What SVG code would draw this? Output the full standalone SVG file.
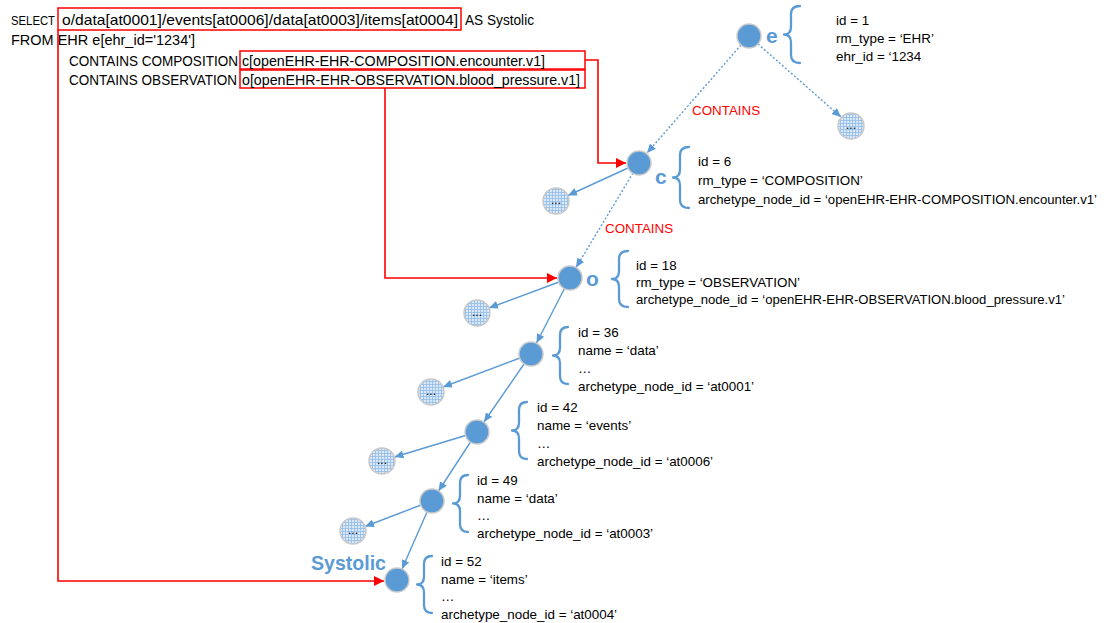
<svg xmlns="http://www.w3.org/2000/svg" width="1111" height="623" viewBox="0 0 1111 623">
  <style>
    .q { font-family: "Liberation Sans", Arial, sans-serif; font-size: 14.6px; fill: #000; }
    .t { font-family: "Liberation Sans", Arial, sans-serif; font-size: 13.4px; fill: #000; }
    .kw { font-family: "Liberation Sans", Arial, sans-serif; font-size: 13.4px; fill: #FF0000; }
    .lbl { font-family: "Liberation Sans", Arial, sans-serif; font-size: 21px; font-weight: bold; fill: #5B9BD5; }
    .rbox { fill: none; stroke: #FF0000; stroke-width: 1.5; }
    .red { fill: none; stroke: #FF0000; stroke-width: 1.6; marker-end: url(#arrRed); }
    .edge { fill: none; stroke: #5B9BD5; stroke-width: 1.4; marker-end: url(#arrBlue); }
    .dot { stroke-dasharray: 2 2; }
    .node { fill: #5B9BD5; stroke: #C9C9C9; stroke-width: 1.5; }
    .leaf { fill: url(#grid); stroke: #C9C9C9; stroke-width: 1.5; }
    .dots { font-family: "Liberation Sans", Arial, sans-serif; font-size: 12px; fill: #000; text-anchor: middle; }
    .brace { fill: none; stroke: #5B9BD5; stroke-width: 2.3; stroke-linecap: round; stroke-linejoin: round; }
  </style>
  <defs>
    <marker id="arrBlue" markerUnits="userSpaceOnUse" markerWidth="10" markerHeight="8" refX="9" refY="4" orient="auto">
      <path d="M0,0 L9,4 L0,8 z" fill="#5B9BD5"/>
    </marker>
    <marker id="arrRed" markerUnits="userSpaceOnUse" markerWidth="11" markerHeight="10" refX="10" refY="5" orient="auto">
      <path d="M0,0 L10,5 L0,10 z" fill="#FF0000"/>
    </marker>
    <pattern id="grid" width="3" height="3" patternUnits="userSpaceOnUse">
      <rect width="3" height="3" fill="#D9E8F8"/>
      <path d="M0,0.5 H3 M0.5,0 V3" stroke="#93BBE5" stroke-width="0.8"/>
    </pattern>
  </defs>

  <!-- AQL query -->
  <g id="query">
    <text class="q" x="11" y="25" font-size="13" style="font-size:13px" textLength="44" lengthAdjust="spacingAndGlyphs">SELECT</text>
    <rect class="rbox" x="58" y="8" width="403" height="22"/>
    <text class="q" x="62" y="25" textLength="396" lengthAdjust="spacingAndGlyphs">o/data[at0001]/events[at0006]/data[at0003]/items[at0004]</text>
    <text class="q" x="465" y="25" textLength="69" lengthAdjust="spacingAndGlyphs">AS Systolic</text>
    <text class="q" x="11" y="45" textLength="184" lengthAdjust="spacingAndGlyphs">FROM EHR e[ehr_id='1234']</text>
    <text class="q" x="69" y="66" textLength="169" lengthAdjust="spacingAndGlyphs">CONTAINS COMPOSITION</text>
    <rect class="rbox" x="240" y="51" width="345" height="18"/>
    <text class="q" x="242" y="66" textLength="303" lengthAdjust="spacingAndGlyphs">c[openEHR-EHR-COMPOSITION.encounter.v1]</text>
    <text class="q" x="69" y="85" textLength="168" lengthAdjust="spacingAndGlyphs">CONTAINS OBSERVATION</text>
    <rect class="rbox" x="240" y="70" width="345" height="18"/>
    <text class="q" x="242" y="85" textLength="338" lengthAdjust="spacingAndGlyphs">o[openEHR-EHR-OBSERVATION.blood_pressure.v1]</text>
  </g>

  <!-- connectors -->
  <g id="connectors">
    <path class="red" d="M58,30 V581 H384"/>
    <path class="red" d="M585,60 H598 V163 H626"/>
    <path class="red" d="M385,88 V278 H557"/>

    <path class="edge dot" d="M741,45 L647,153"/>
    <path class="edge dot" d="M758,44 L841,117"/>
    <path class="edge" d="M628,168 L568,195.5"/>
    <path class="edge dot" d="M633,173 L576,267.5"/>
    <path class="edge" d="M559,282 L489,308"/>
    <path class="edge" d="M564.5,288.5 L536.5,343"/>
    <path class="edge" d="M520,358 L443,387"/>
    <path class="edge" d="M524,364 L484,422"/>
    <path class="edge" d="M465.5,435.5 L394.5,457"/>
    <path class="edge" d="M470.5,442 L438.5,491"/>
    <path class="edge" d="M421,505 L365,526.5"/>
    <path class="edge" d="M427,512 L402,569"/>

    <text class="kw" x="692" y="115">CONTAINS</text>
    <text class="kw" x="605" y="233">CONTAINS</text>
  </g>

  <!-- EHR -->
  <g id="node-e">
    <circle class="node" cx="749" cy="36" r="12"/>
    <text class="lbl" x="766" y="43">e</text>
    <path class="brace" d="M800,6 Q791,6 791,14 L791,26.5 Q791,34.5 784,34.5 Q791,34.5 791,42.5 L791,55 Q791,63 800,63"/>
    <text class="t" x="836" y="25">id = 1</text>
    <text class="t" x="836" y="43">rm_type = ‘EHR’</text>
    <text class="t" x="836" y="61">ehr_id = ‘1234</text>
  </g>
  <g id="leaf-e">
    <circle class="leaf" cx="851" cy="126" r="13"/>
    <text class="dots" x="851" y="129">...</text>
  </g>

  <!-- COMPOSITION -->
  <g id="node-c">
    <circle class="node" cx="639" cy="163" r="12"/>
    <text class="lbl" x="655" y="184">c</text>
    <path class="brace" d="M689,147 Q680,147 680,155 L680,169.5 Q680,177.5 673,177.5 Q680,177.5 680,185.5 L680,200 Q680,208 689,208"/>
    <text class="t" x="698" y="166">id = 6</text>
    <text class="t" x="698" y="185">rm_type = ‘COMPOSITION’</text>
    <text class="t" x="698" y="204" textLength="399" lengthAdjust="spacingAndGlyphs">archetype_node_id = ‘openEHR-EHR-COMPOSITION.encounter.v1’</text>
  </g>
  <g id="leaf-c">
    <circle class="leaf" cx="556" cy="201" r="13"/>
    <text class="dots" x="556" y="204">...</text>
  </g>

  <!-- OBSERVATION -->
  <g id="node-o">
    <circle class="node" cx="570" cy="278" r="12"/>
    <text class="lbl" x="586" y="286">o</text>
    <path class="brace" d="M628,251 Q619,251 619,259 L619,271 Q619,279 612,279 Q619,279 619,287 L619,299 Q619,307 628,307"/>
    <text class="t" x="636" y="270">id = 18</text>
    <text class="t" x="636" y="287">rm_type = ‘OBSERVATION’</text>
    <text class="t" x="636" y="304" textLength="429" lengthAdjust="spacingAndGlyphs">archetype_node_id = ‘openEHR-EHR-OBSERVATION.blood_pressure.v1’</text>
  </g>
  <g id="leaf-o">
    <circle class="leaf" cx="477" cy="313" r="13"/>
    <text class="dots" x="477" y="316">...</text>
  </g>

  <!-- data -->
  <g id="node-36">
    <circle class="node" cx="531" cy="354" r="12"/>
    <path class="brace" d="M568,327 Q560,327 560,335 L560,347.5 Q560,355.5 553,355.5 Q560,355.5 560,363.5 L560,376 Q560,384 568,384"/>
    <text class="t" x="578" y="337">id = 36</text>
    <text class="t" x="578" y="355">name = ‘data’</text>
    <text class="t" x="578" y="373">…</text>
    <text class="t" x="578" y="391">archetype_node_id = ‘at0001’</text>
  </g>
  <g id="leaf-36">
    <circle class="leaf" cx="431" cy="392" r="13"/>
    <text class="dots" x="431" y="395">...</text>
  </g>

  <!-- events -->
  <g id="node-42">
    <circle class="node" cx="477" cy="432" r="12"/>
    <path class="brace" d="M527,402 Q519,402 519,410 L519,422.5 Q519,430.5 512,430.5 Q519,430.5 519,438.5 L519,451 Q519,459 527,459"/>
    <text class="t" x="537" y="412">id = 42</text>
    <text class="t" x="537" y="430">name = ‘events’</text>
    <text class="t" x="537" y="448">…</text>
    <text class="t" x="537" y="466">archetype_node_id = ‘at0006’</text>
  </g>
  <g id="leaf-42">
    <circle class="leaf" cx="382" cy="461" r="13"/>
    <text class="dots" x="382" y="464">...</text>
  </g>

  <!-- data -->
  <g id="node-49">
    <circle class="node" cx="432" cy="501" r="12"/>
    <path class="brace" d="M468,475 Q460,475 460,483 L460,495.5 Q460,503.5 453,503.5 Q460,503.5 460,511.5 L460,524 Q460,532 468,532"/>
    <text class="t" x="477" y="485">id = 49</text>
    <text class="t" x="477" y="503">name = ‘data’</text>
    <text class="t" x="477" y="520">…</text>
    <text class="t" x="477" y="538">archetype_node_id = ‘at0003’</text>
  </g>
  <g id="leaf-49">
    <circle class="leaf" cx="353" cy="531" r="13"/>
    <text class="dots" x="353" y="534">...</text>
  </g>

  <!-- items (Systolic) -->
  <g id="node-52">
    <circle class="node" cx="397" cy="580" r="12"/>
    <text class="lbl" x="311" y="570" font-size="20" textLength="75" lengthAdjust="spacingAndGlyphs">Systolic</text>
    <path class="brace" d="M432,556 Q424,556 424,564 L424,576.5 Q424,584.5 417,584.5 Q424,584.5 424,592.5 L424,605 Q424,613 432,613"/>
    <text class="t" x="441" y="566">id = 52</text>
    <text class="t" x="441" y="584">name = ‘items’</text>
    <text class="t" x="441" y="601">…</text>
    <text class="t" x="441" y="619">archetype_node_id = ‘at0004’</text>
  </g>
</svg>
